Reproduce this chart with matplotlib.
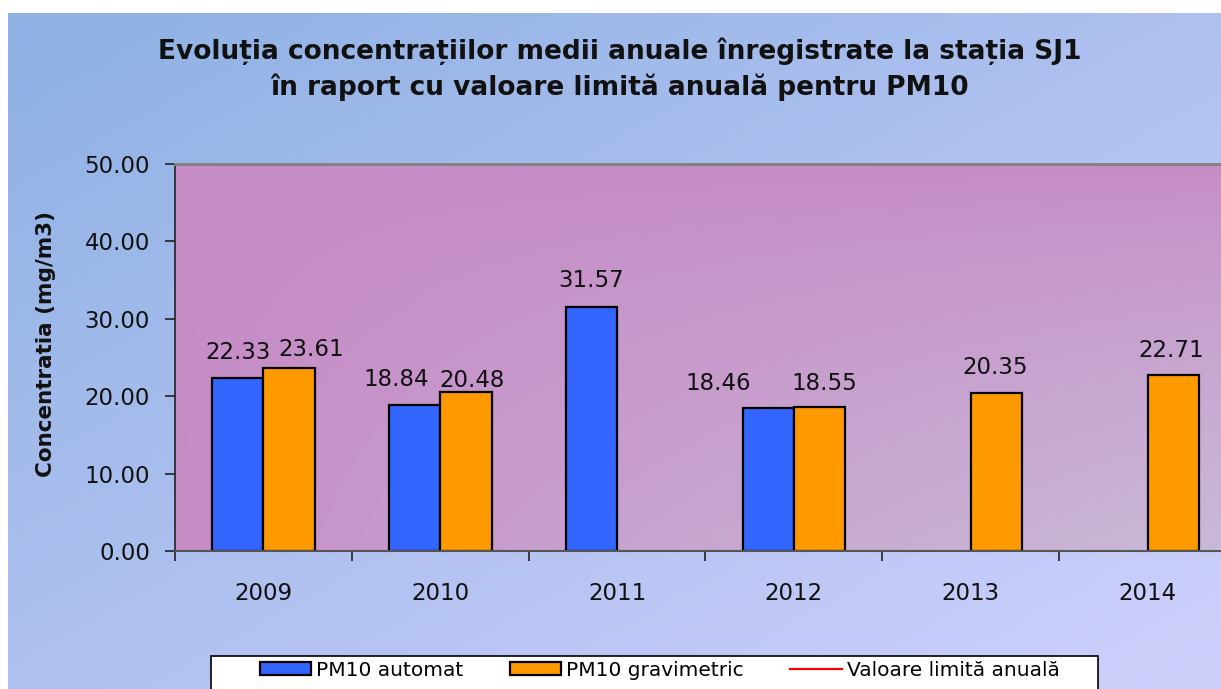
import numpy as np
import matplotlib
matplotlib.use("Agg")
import matplotlib.pyplot as plt
from matplotlib.patches import Rectangle, Patch
from matplotlib.lines import Line2D

# ---- data ----
years = ["2009", "2010", "2011", "2012", "2013", "2014"]
pm10_automat = [22.33, 18.84, 31.57, 18.46, np.nan, np.nan]
pm10_gravimetric = [23.61, 20.48, np.nan, 18.55, 20.35, 22.71]
y_ticks = [0, 10, 20, 30, 40, 50]
series_names = ["PM10 automat", "PM10 gravimetric", "Valoare limită anuală"]
title = ("Evoluția concentrațiilor medii anuale înregistrate la stația SJ1\n"
         "în raport cu valoare limită anuală pentru PM10")
ylabel = "Concentratia (mg/m3)"

# label offsets in pixels (dx, dy above bar top) - style only
off_automat = [(0, 26), (-18, 26), (0, 26), (-50, 25), (0, 26), (0, 26)]
off_grav = [(22, 19), (6, 12), (0, 26), (5, 24), (-1, 26), (-2, 25)]

W, H = 1221, 689
plt.rcParams['font.family'] = ['DejaVu Sans']
fig = plt.figure(figsize=(W / 100, H / 100), dpi=100)
fig.patch.set_facecolor("white")
PX = 0.72  # points per pixel at dpi 100

# ---- background gradient ----
bg = fig.add_axes([8 / W, 0, 1 - 8 / W, 1 - 13 / H])
bg.set_axis_off()
nx, ny = 200, 120
xx, yy = np.meshgrid(np.linspace(0, 1, nx), np.linspace(0, 1, ny))
t = (xx + yy) / 2
c0 = np.array([0x8d, 0xb1, 0xe3]) / 255
c1 = np.array([0xd0, 0xd0, 0xfc]) / 255
img = c0[None, None, :] * (1 - t[..., None]) + c1[None, None, :] * t[..., None]
bg.imshow(img, aspect="auto", extent=(0, 1, 1, 0), interpolation="bilinear")
bg.set_xlim(0, 1)
bg.set_ylim(1, 0)

# ---- main axes ----
left, right, top, bottom = 175, 1236, 164, 551
ax = fig.add_axes([left / W, 1 - bottom / H, (right - left) / W, (bottom - top) / H])
ax.set_facecolor("none")

x = np.arange(len(years))
w = 0.29
xlim = (-0.5, len(years) - 0.5)
ylim = (0, 50)

# plot area gradient
pt_x, pt_y = np.meshgrid(np.linspace(0, 1, nx), np.linspace(0, 1, ny))
tp = np.clip(pt_x * pt_y, 0, 1) ** 0.8
p0 = np.array([0xc6, 0x8c, 0xc6]) / 255
p1 = np.array([0xc9, 0xba, 0xd8]) / 255
pimg = p0[None, None, :] * (1 - tp[..., None]) + p1[None, None, :] * tp[..., None]
ax.imshow(pimg, aspect="auto", extent=(xlim[0], xlim[1], ylim[0], ylim[1]),
          origin="upper", zorder=0, interpolation="bilinear")

b1 = ax.bar(x - w / 2, pm10_automat, w, color="#3366ff", edgecolor="black",
            linewidth=1.6, zorder=2, label=series_names[0])
b2 = ax.bar(x + w / 2, pm10_gravimetric, w, color="#ff9900", edgecolor="black",
            linewidth=1.6, zorder=2, label=series_names[1])

for xs, vals, offs in [(x - w / 2, pm10_automat, off_automat),
                       (x + w / 2, pm10_gravimetric, off_grav)]:
    for xi, v, (dx, dy) in zip(xs, vals, offs):
        if np.isnan(v):
            continue
        ax.annotate(f"{v:.2f}", xy=(xi, v), xytext=(dx * PX, dy * PX),
                    textcoords="offset points", ha="center", va="center",
                    fontsize=16.5, color="#111111", zorder=3)

ax.set_xlim(*xlim)
ax.set_ylim(*ylim)
ax.set_yticks(y_ticks)
ax.set_yticklabels([f"{v:.2f}" for v in y_ticks])
ax.set_xticks(np.arange(len(years) + 1) - 0.5)
ax.set_xticklabels([])
ax.set_xticks(x, minor=True)
ax.set_xticklabels(years, minor=True)
ax.tick_params(axis="x", which="major", length=7, width=1.2, direction="out", color="#222222")
ax.tick_params(axis="x", which="minor", length=0, pad=22, labelsize=16.5, labelcolor="#111111")
ax.tick_params(axis="y", length=7, width=1.2, direction="out", pad=11,
               labelsize=16.5, labelcolor="#111111", color="#222222")

ax.spines["right"].set_visible(False)
ax.spines["top"].set_color("#808080")
ax.spines["top"].set_linewidth(2)
ax.spines["left"].set_color("#222222")
ax.spines["left"].set_linewidth(1.2)
ax.spines["bottom"].set_color("#555555")
ax.spines["bottom"].set_linewidth(1.5)

ax.set_ylabel(ylabel, fontsize=15.5, fontweight="bold", color="#111111")
ax.yaxis.set_label_coords(-(left - 56) / (right - left), 0.536)

fig.text(620 / W, 1 - 69 / H, title, ha="center", va="center", fontsize=19,
         fontweight="bold", color="#111111", linespacing=1.4)

# ---- legend ----
fig.add_artist(Rectangle((211 / W, 1 - 705 / H), (1098 - 211) / W, (705 - 656) / H,
                         transform=fig.transFigure, facecolor="white",
                         edgecolor="black", linewidth=1.2, zorder=5))
handles = [Patch(facecolor="#3366ff", edgecolor="black", linewidth=1.6),
           Patch(facecolor="#ff9900", edgecolor="black", linewidth=1.6),
           Line2D([], [], color="red", linewidth=1.6)]
leg = fig.legend(handles, series_names, loc="center left",
                 bbox_to_anchor=(260 / W, 1 - 670 / H), ncol=3, frameon=False,
                 fontsize=14.5, handlelength=2.55, handleheight=0.6,
                 handletextpad=0.25, columnspacing=2.3, borderpad=0,
                 borderaxespad=0)
leg.set_zorder(6)

fig.savefig("out.png", dpi=100, facecolor=fig.get_facecolor())
